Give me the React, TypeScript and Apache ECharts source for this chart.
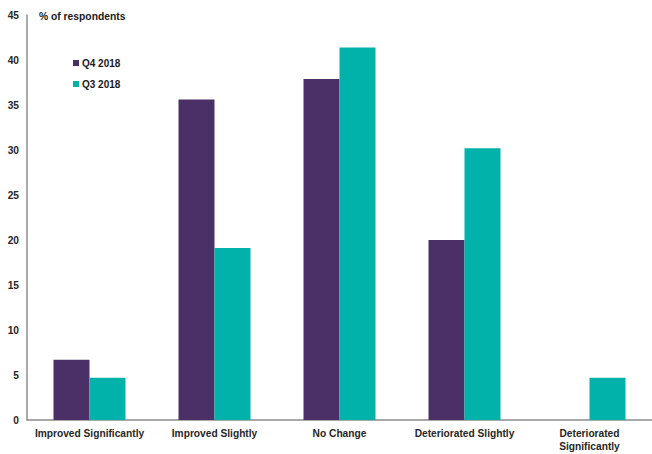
import React, { useEffect, useRef } from "react";
import * as echarts from "echarts";

const categories = [
  "Improved Significantly",
  "Improved Slightly",
  "No Change",
  "Deteriorated Slightly",
  "Deteriorated\nSignificantly",
];
const q4_2018 = [6.7, 35.6, 37.9, 20.0, 0];
const q3_2018 = [4.7, 19.1, 41.4, 30.2, 4.7];
const yTicks = { min: 0, max: 45, interval: 5 };

const FONT = "Liberation Sans, Arial, sans-serif";

export default function App() {
  const ref = useRef<HTMLDivElement>(null);

  useEffect(() => {
    if (!ref.current) return;
    const chart = echarts.init(ref.current, undefined, { renderer: "svg" });
    chart.setOption({
      animation: false,
      backgroundColor: "#ffffff",
      title: {
        text: "% of respondents",
        left: 34,
        top: 6,
        textStyle: { fontFamily: FONT, fontSize: 10.3, fontWeight: "bold", color: "#1a1a1a" },
      },
      legend: {
        orient: "vertical",
        left: 68,
        top: 53,
        itemWidth: 6,
        itemHeight: 6,
        itemGap: 11,
        icon: "rect",
        textStyle: { fontFamily: FONT, fontSize: 10, fontWeight: "bold", color: "#1a1a1a", padding: [0, 0, 0, -2] },
        data: ["Q4 2018", "Q3 2018"],
      },
      grid: { left: 27, top: 15, bottom: 34, right: -5, containLabel: false },
      xAxis: {
        type: "category",
        data: categories,
        axisLine: { lineStyle: { color: "#8c8c8c", width: 1.5 } },
        axisTick: { show: false },
        axisLabel: {
          interval: 0,
          margin: 7,
          fontFamily: FONT,
          fontSize: 10.2,
          fontWeight: "bold",
          color: "#262626",
          lineHeight: 13,
        },
      },
      yAxis: {
        type: "value",
        min: yTicks.min,
        max: yTicks.max,
        interval: yTicks.interval,
        axisLine: { show: true, lineStyle: { color: "#8c8c8c", width: 1.5 } },
        axisTick: { show: false },
        splitLine: { show: false },
        axisLabel: {
          margin: 8,
          fontFamily: FONT,
          fontSize: 10.2,
          fontWeight: "bold",
          color: "#262626",
        },
      },
      series: [
        {
          name: "Q4 2018",
          type: "bar",
          data: q4_2018,
          barWidth: 36,
          barGap: "0%",
          itemStyle: { color: "#4b3068" },
        },
        {
          name: "Q3 2018",
          type: "bar",
          data: q3_2018,
          barWidth: 36,
          barGap: "0%",
          itemStyle: { color: "#00b2a9" },
        },
      ],
    });
    return () => chart.dispose();
  }, []);

  return <div ref={ref} style={{ width: 652, height: 454, position: "absolute", left: 0, top: 0 }} />;
}
